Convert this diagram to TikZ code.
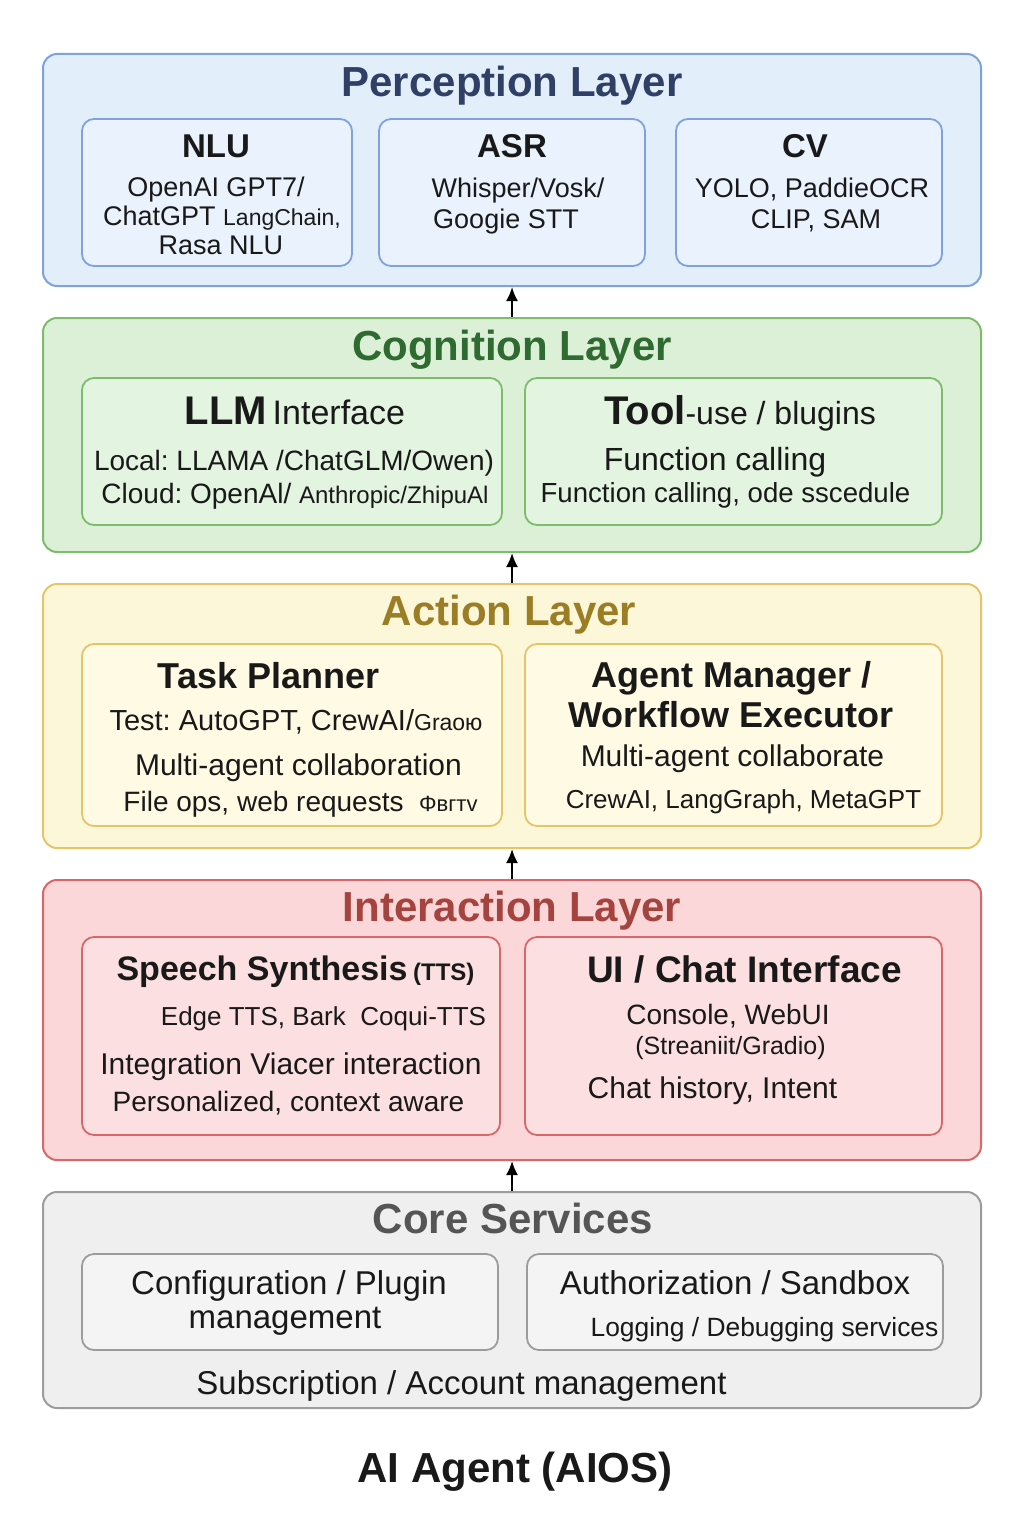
\documentclass[tikz,border=0pt]{standalone}
\usepackage{fontspec}
\setmainfont{Liberation Sans}
\usetikzlibrary{arrows.meta}
\frenchspacing

\newcommand\fsz[1]{\fontsize{#1}{#1}\selectfont}

\definecolor{percfill}{HTML}{E3EEFB}
\definecolor{percin}{HTML}{E9F2FD}
\definecolor{percline}{HTML}{7FA2DD}
\definecolor{perctext}{HTML}{2F3F66}
\definecolor{cogfill}{HTML}{DCF0D8}
\definecolor{cogin}{HTML}{E3F4E0}
\definecolor{cogline}{HTML}{7CBD6B}
\definecolor{cogtext}{HTML}{2F6A30}
\definecolor{actfill}{HTML}{FDF7D9}
\definecolor{actin}{HTML}{FEFAE3}
\definecolor{actline}{HTML}{E6C468}
\definecolor{acttext}{HTML}{9A7D24}
\definecolor{interfill}{HTML}{FBD7D9}
\definecolor{interin}{HTML}{FCDFE0}
\definecolor{interline}{HTML}{D86769}
\definecolor{intertext}{HTML}{A5433F}
\definecolor{corefill}{HTML}{EFEFEF}
\definecolor{corein}{HTML}{F4F4F4}
\definecolor{coreline}{HTML}{9C9C9C}
\definecolor{coretext}{HTML}{555555}

\begin{document}
\begin{tikzpicture}[x=0.5pt, y=-0.5pt,
  layer/.style = {draw, line width=1pt, rounded corners=7pt, minimum width=469pt},
  box/.style = {draw, line width=0.9pt, rounded corners=6pt},
  txt/.style = {anchor=base, inner sep=0pt, text=black!90},
  layertitle/.style = {txt, font={\fsz{21}\bfseries}},
  boxtitle/.style = {txt, font={\fsz{#1}\bfseries}},
  linetext/.style = {txt, font={\fsz{#1}}},
  up/.style = {-{Latex[length=7pt,width=6pt]}, line width=1pt}]

  \fill[white] (0,0) rectangle (1024,1536);
  \useasboundingbox (0,0) rectangle (1024,1536);

  % perception layer
  \node[layer, fill=percfill, draw=percline, minimum height=116pt] (perc) at (512,170) {};
  \node[layertitle, text=perctext] (perc-t) at (512,97) {Perception Layer};
  \node[box, fill=percin, draw=percline, minimum width=135pt, minimum height=73.5pt] (nlu) at (217,192.5) {};
  \node[box, fill=percin, draw=percline, minimum width=133pt, minimum height=73.5pt] (asr) at (512,192.5) {};
  \node[box, fill=percin, draw=percline, minimum width=133pt, minimum height=73.5pt] (cv) at (809,192.5) {};
  \node[boxtitle=16.5] (nlu-t) at (216,157) {NLU};
  \node[linetext=13.5] (nlu-a) at (216,196) {OpenAI GPT7/};
  \node[linetext=13.5] (nlu-b) at (222,225) {ChatGPT {\fsz{11.5}LangChain,}};
  \node[linetext=13.5] (nlu-c) at (221,254) {Rasa NLU};
  \node[boxtitle=16.5] (asr-t) at (512,157) {ASR};
  \node[linetext=13.5] (asr-a) at (518,197) {Whisper/Vosk/};
  \node[linetext=13.5] (asr-b) at (506,228) {Googie STT};
  \node[boxtitle=16.5] (cv-t) at (805,157) {CV};
  \node[linetext=13.5] (cv-a) at (812,197) {YOLO, PaddieOCR};
  \node[linetext=13.5] (cv-b) at (816,228) {CLIP, SAM};

  % cognition layer
  \node[layer, fill=cogfill, draw=cogline, minimum height=117pt] (cog) at (512,435) {};
  \node[layertitle, text=cogtext] (cog-t) at (512,360) {Cognition Layer};
  \node[box, fill=cogin, draw=cogline, minimum width=210pt, minimum height=73.5pt] (llm) at (292,451.5) {};
  \node[box, fill=cogin, draw=cogline, minimum width=208.5pt, minimum height=73.5pt] (tool) at (733.5,451.5) {};
  \node[txt] (llm-t) at (295,424) {{\fsz{20}\bfseries LLM} {\fsz{17}Interface}};
  \node[linetext=14] (llm-a) at (294,470) {Local: LLAMA /ChatGLM/Owen)};
  \node[linetext=14] (llm-b) at (295,503) {Cloud: OpenAl/ {\fsz{12}Anthropic/ZhipuAl}};
  \node[txt] (tool-t) at (740,424) {{\fsz{20}\bfseries Tool}{\fsz{16}-use / blugins}};
  \node[linetext=16] (tool-a) at (715,470.5) {Function calling};
  \node[linetext=13.8] (tool-b) at (725.5,502) {Function calling, ode sscedule};

  % action layer
  \node[layer, fill=actfill, draw=actline, minimum height=132pt] (act) at (512,716) {};
  \node[layertitle, text=acttext] (act-t) at (509,625) {Action Layer};
  \node[box, fill=actin, draw=actline, minimum width=210pt, minimum height=91pt] (task) at (292,735) {};
  \node[box, fill=actin, draw=actline, minimum width=208.5pt, minimum height=91pt] (agent) at (733.5,735) {};
  \node[boxtitle=18] (task-t) at (268.5,688) {Task Planner};
  \node[linetext=14.5] (task-a) at (296,730.5) {Test: AutoGPT, CrewAI/{\fsz{11.5}Graoю}};
  \node[linetext=15] (task-b) at (298.5,775) {Multi-agent collaboration};
  \node[linetext=14] (task-c) at (300.5,811) {File ops, web requests \ {\fsz{11}Φвгтv}};
  \node[boxtitle=18] (agent-t) at (731.5,687) {Agent Manager /};
  \node[boxtitle=18] (agent-u) at (731,727) {Workflow Executor};
  \node[linetext=15] (agent-a) at (732.5,766) {Multi-agent collaborate};
  \node[linetext=13] (agent-b) at (743.5,808) {CrewAI, LangGraph, MetaGPT};

  % interaction layer
  \node[layer, fill=interfill, draw=interline, minimum height=140pt] (inter) at (512,1020) {};
  \node[layertitle, text=intertext] (inter-t) at (512,921) {Interaction Layer};
  \node[box, fill=interin, draw=interline, minimum width=209pt, minimum height=99pt] (tts) at (291,1036) {};
  \node[box, fill=interin, draw=interline, minimum width=208.5pt, minimum height=99pt] (ui) at (733.5,1036) {};
  \node[txt] (tts-t) at (295.5,980) {{\fsz{17}\bfseries Speech Synthesis} {\fsz{12}\bfseries(TTS)}};
  \node[linetext=13] (tts-a) at (323.5,1025) {Edge TTS, Bark \ Coqui-TTS};
  \node[linetext=15] (tts-b) at (291,1074) {Integration Viacer interaction};
  \node[linetext=14] (tts-c) at (288.5,1111) {Personalized, context aware};
  \node[boxtitle=18.5] (ui-t) at (744.5,982) {UI / Chat Interface};
  \node[linetext=14] (ui-a) at (728,1024) {Console, WebUI};
  \node[linetext=12.5] (ui-b) at (730.5,1054.5) {(Streaniit/Gradio)};
  \node[linetext=15] (ui-c) at (712.5,1098) {Chat history, Intent};

  % core services
  \node[layer, fill=corefill, draw=coreline, minimum height=108pt] (core) at (512,1300) {};
  \node[layertitle, text=coretext] (core-t) at (513,1233) {Core Services};
  \node[box, fill=corein, draw=coreline, minimum width=208pt, minimum height=48pt] (config) at (290,1302) {};
  \node[box, fill=corein, draw=coreline, minimum width=208pt, minimum height=48pt] (auth) at (735,1302) {};
  \node[linetext=16.5] (config-a) at (289,1294) {Configuration / Plugin};
  \node[linetext=16.5] (config-b) at (285,1328) {management};
  \node[linetext=16.5] (auth-a) at (735,1294) {Authorization / Sandbox};
  \node[linetext=13.2] (auth-b) at (764.5,1336) {Logging / Debugging services};
  \node[linetext=16.5] (sub) at (461.5,1394) {Subscription / Account management};

  \node[txt, font={\fsz{21}\bfseries}] (aios) at (515,1482) {AI Agent (AIOS)};

  % arrows between layers
  \draw[up] (cog) -- (perc);
  \draw[up] (act) -- (cog);
  \draw[up] (inter) -- (act);
  \draw[up] (core) -- (inter);
\end{tikzpicture}
\end{document}
